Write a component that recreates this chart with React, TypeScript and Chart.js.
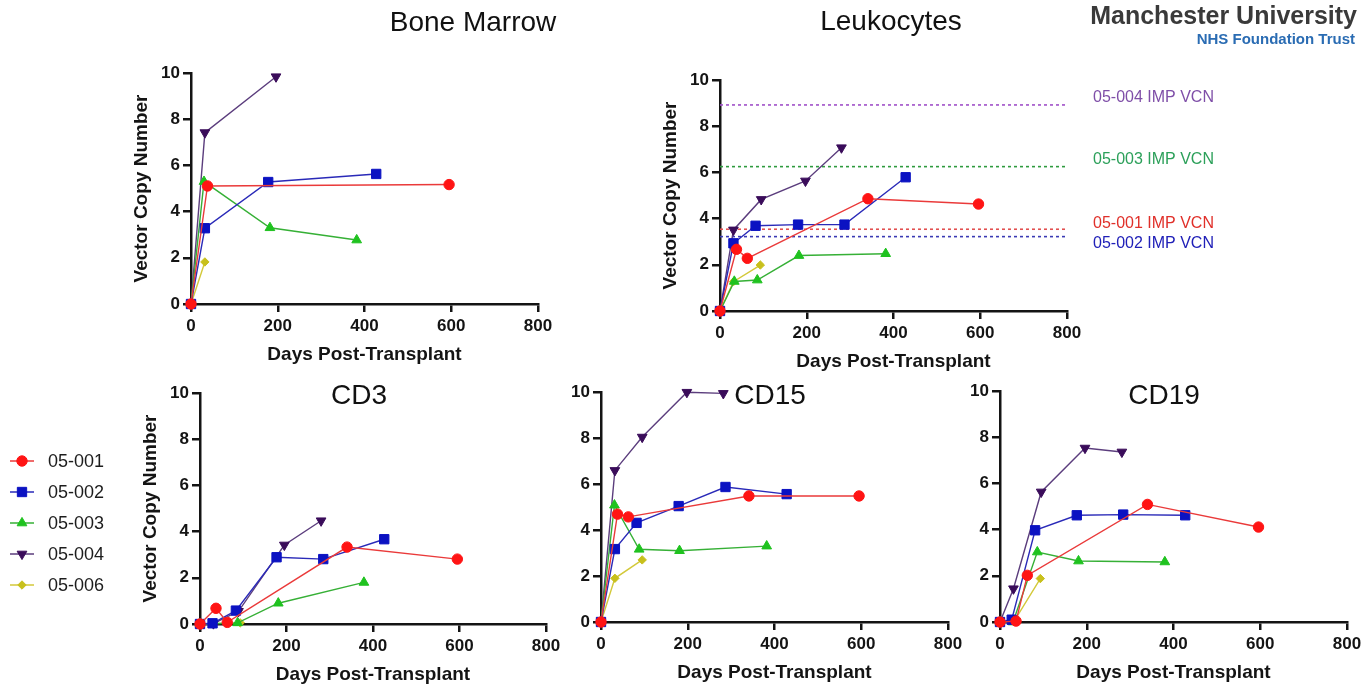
import React, { useEffect, useRef } from "react";
import { Chart, registerables } from "chart.js";
import { drawPoint } from "chart.js/helpers";

Chart.register(...registerables);

const PAGE_W = 1370;
const PAGE_H = 690;
const FONT = 'Arial, "Liberation Sans", Helvetica, sans-serif';
const INK = "#141414";

// ---------- data ----------
const PATIENTS = ["05-001", "05-002", "05-003", "05-004", "05-006"];
const X_TICKS = [0, 200, 400, 600, 800];
const Y_TICKS = [0, 2, 4, 6, 8, 10];

// Bone Marrow
const bmDays001 = [0, 38, 595];
const bmVcn001 = [0, 5.11, 5.17];
const bmDays002 = [0, 32, 178, 427];
const bmVcn002 = [0, 3.28, 5.28, 5.63];
const bmDays003 = [0, 30, 182, 382];
const bmVcn003 = [0, 5.3, 3.3, 2.77];
const bmDays004 = [0, 32, 196];
const bmVcn004 = [0, 7.42, 9.84];
const bmDays006 = [0, 32];
const bmVcn006 = [0, 1.82];

// Leukocytes
const leukDays001 = [0, 38, 63, 341, 596];
const leukVcn001 = [0, 2.67, 2.28, 4.86, 4.63];
const leukDays002 = [0, 31, 82, 180, 287, 428];
const leukVcn002 = [0, 2.93, 3.69, 3.74, 3.74, 5.79];
const leukDays003 = [0, 33, 86, 182, 382];
const leukVcn003 = [0, 1.28, 1.34, 2.4, 2.48];
const leukDays004 = [0, 31, 95, 197, 280];
const leukVcn004 = [0, 3.51, 4.83, 5.63, 7.07];
const leukDays006 = [0, 31, 93];
const leukVcn006 = [0, 1.27, 1.99];

// Leukocytes IMP VCN reference levels (05-001, 05-002, 05-003, 05-004)
const IMP_LABELS = ["05-001 IMP VCN", "05-002 IMP VCN", "05-003 IMP VCN", "05-004 IMP VCN"];
const IMP_VCN = [3.54, 3.22, 6.25, 8.92];

// CD3
const cd3Days001 = [0, 37, 63, 340, 595];
const cd3Vcn001 = [0, 0.68, 0.07, 3.33, 2.81];
const cd3Days002 = [0, 29, 83, 177, 285, 426];
const cd3Vcn002 = [0, 0.03, 0.58, 2.89, 2.81, 3.67];
const cd3Days003 = [0, 87, 181, 379];
const cd3Vcn003 = [0, 0.05, 0.9, 1.8];
const cd3Days004 = [0, 31, 89, 195, 280];
const cd3Vcn004 = [0, 0.02, 0.55, 3.42, 4.47];
const cd3Days006 = [0, 93];
const cd3Vcn006 = [0, 0.05];

// CD15
const cd15Days001 = [0, 38, 63, 341, 595];
const cd15Vcn001 = [0, 4.69, 4.57, 5.48, 5.48];
const cd15Days002 = [0, 32, 82, 179, 287, 428];
const cd15Vcn002 = [0, 3.17, 4.31, 5.04, 5.87, 5.56];
const cd15Days003 = [0, 31, 88, 181, 382];
const cd15Vcn003 = [0, 5.08, 3.16, 3.1, 3.3];
const cd15Days004 = [0, 32, 95, 198, 282];
const cd15Vcn004 = [0, 6.59, 8.04, 9.99, 9.94];
const cd15Days006 = [0, 32, 95];
const cd15Vcn006 = [0, 1.9, 2.7];

// CD19
const cd19Days001 = [0, 37, 63, 340, 596];
const cd19Vcn001 = [0, 0.04, 2.02, 5.09, 4.11];
const cd19Days002 = [0, 27, 81, 177, 284, 427];
const cd19Vcn002 = [0, 0.1, 3.97, 4.62, 4.65, 4.62];
const cd19Days003 = [0, 30, 86, 181, 380];
const cd19Vcn003 = [0, 0, 3.03, 2.64, 2.6];
const cd19Days004 = [0, 31, 95, 196, 281];
const cd19Vcn004 = [0, 1.44, 5.63, 7.53, 7.36];
const cd19Days006 = [0, 32, 93];
const cd19Vcn006 = [0, 0.02, 1.88];

// ---------- styles ----------
const STYLES = [
  { line: "#ea3a3a", fill: "#ff1414", shape: "circle", radius: 5.2, rotation: 0 },
  { line: "#2a2ab8", fill: "#0b12c2", shape: "rect", radius: 6.6, rotation: 0 },
  { line: "#36b036", fill: "#1fc21f", shape: "triangle", radius: 5.6, rotation: 0 },
  { line: "#5b3d7d", fill: "#3a0c5a", shape: "triangle", radius: 5.6, rotation: 180 },
  { line: "#d3c93a", fill: "#c8c01c", shape: "rectRot", radius: 4.2, rotation: 0 },
];
const IMP_LINE_COLORS = ["#e25050", "#3a3ab4", "#2e9a3e", "#a050c8"];
const IMP_TEXT_COLORS = ["#e0302a", "#2020b8", "#2ca05a", "#7f4fa8"];
const IMP_TEXT_OFFSET = [-6, 7, -7, -7.5];

const Y_AXIS_W = 61;
const X_AXIS_H = 65;

type Area = { left: number; top: number; right: number; bottom: number };

const refPlugin = {
  id: "impRefs",
  beforeDatasetsDraw(chart: any) {
    const { ctx, chartArea, scales } = chart;
    const y = scales.y;
    IMP_VCN.forEach((v, i) => {
      const py = y.getPixelForValue(v);
      ctx.save();
      ctx.strokeStyle = IMP_LINE_COLORS[i];
      ctx.lineWidth = 1.6;
      ctx.setLineDash([3, 3]);
      ctx.beginPath();
      ctx.moveTo(chartArea.left, py);
      ctx.lineTo(chartArea.right, py);
      ctx.stroke();
      ctx.setLineDash([]);
      ctx.fillStyle = IMP_TEXT_COLORS[i];
      ctx.font = `16px ${FONT}`;
      ctx.textBaseline = "middle";
      ctx.textAlign = "left";
      ctx.fillText(IMP_LABELS[i], chartArea.right + 26, py + IMP_TEXT_OFFSET[i]);
      ctx.restore();
    });
  },
};

const legendPlugin = {
  id: "sideLegend",
  afterDraw(chart: any) {
    const { ctx } = chart;
    const x0 = 10;
    const lineLen = 24;
    const textX = 48;
    const top = 461;
    const gap = 31;
    chart.data.datasets.forEach((ds: any, i: number) => {
      const y = top + i * gap;
      ctx.save();
      ctx.strokeStyle = ds.borderColor;
      ctx.lineWidth = 1.5;
      ctx.beginPath();
      ctx.moveTo(x0, y);
      ctx.lineTo(x0 + lineLen, y);
      ctx.stroke();
      ctx.fillStyle = ds.pointBackgroundColor;
      ctx.strokeStyle = ds.pointBorderColor;
      ctx.lineWidth = 1;
      drawPoint(ctx, { pointStyle: ds.pointStyle, rotation: ds.pointRotation, radius: ds.pointRadius, borderWidth: 1 }, x0 + lineLen / 2, y);
      ctx.fillStyle = "#1c1c1c";
      ctx.font = `18px ${FONT}`;
      ctx.textBaseline = "middle";
      ctx.textAlign = "left";
      ctx.fillText(ds.label, textX, y + 1);
      ctx.restore();
    });
  },
};

function buildConfig(series: [number[], number[]][], area: Area, yTitle: boolean, refs: boolean, legend: boolean): any {
  const datasets = series.map(([days, vcn], i) => {
    const st = STYLES[i];
    return {
      label: PATIENTS[i],
      data: days.map((d, k) => ({ x: d, y: vcn[k] })),
      borderColor: st.line,
      borderWidth: 1.4,
      backgroundColor: st.fill,
      pointBackgroundColor: st.fill,
      pointBorderColor: st.fill,
      pointBorderWidth: 1,
      pointStyle: st.shape,
      pointRadius: st.radius,
      pointRotation: st.rotation,
      tension: 0,
      clip: false,
      fill: false,
    };
  });
  const plugins: any[] = [];
  if (refs) plugins.push(refPlugin);
  if (legend) plugins.push(legendPlugin);
  const axisCommon = {
    grid: { drawOnChartArea: false, drawTicks: true, tickLength: 8, color: INK, lineWidth: 2.5 },
    border: { display: true, color: INK, width: 2.5 },
  };
  return {
    type: "line",
    data: { datasets },
    plugins,
    options: {
      responsive: false,
      animation: false,
      events: [],
      devicePixelRatio: 1,
      layout: {
        padding: {
          left: area.left - Y_AXIS_W,
          top: area.top,
          right: PAGE_W - area.right,
          bottom: PAGE_H - area.bottom - X_AXIS_H,
        },
      },
      plugins: {
        legend: { display: false },
        tooltip: { enabled: false },
        title: { display: false },
      },
      scales: {
        x: {
          type: "linear",
          min: 0,
          max: 800,
          ...axisCommon,
          afterBuildTicks: (s: any) => {
            s.ticks = X_TICKS.map((v) => ({ value: v }));
          },
          ticks: { color: INK, font: { family: FONT, size: 17, weight: "bold" }, padding: 4, maxRotation: 0, autoSkip: false },
          title: {
            display: true,
            text: "Days Post-Transplant",
            color: INK,
            font: { family: FONT, size: 19, weight: "bold" },
            padding: { top: 0, bottom: 3 },
          },
          afterFit: (s: any) => {
            s.height = X_AXIS_H;
          },
        },
        y: {
          type: "linear",
          min: 0,
          max: 10,
          ...axisCommon,
          afterBuildTicks: (s: any) => {
            s.ticks = Y_TICKS.map((v) => ({ value: v }));
          },
          ticks: { color: INK, font: { family: FONT, size: 17, weight: "bold" }, padding: 3, autoSkip: false },
          title: {
            display: yTitle,
            text: "Vector Copy Number",
            color: INK,
            font: { family: FONT, size: 19, weight: "bold" },
            padding: { top: 0, bottom: 0 },
          },
          afterFit: (s: any) => {
            s.width = Y_AXIS_W;
          },
        },
      },
    },
  };
}

function makeConfigs(): any[] {
  return [
    buildConfig(
      [
        [bmDays001, bmVcn001],
        [bmDays002, bmVcn002],
        [bmDays003, bmVcn003],
        [bmDays004, bmVcn004],
        [bmDays006, bmVcn006],
      ],
      { left: 191, top: 73, right: 538, bottom: 304 },
      true,
      false,
      false
    ),
    buildConfig(
      [
        [leukDays001, leukVcn001],
        [leukDays002, leukVcn002],
        [leukDays003, leukVcn003],
        [leukDays004, leukVcn004],
        [leukDays006, leukVcn006],
      ],
      { left: 720, top: 80, right: 1067, bottom: 311 },
      true,
      true,
      false
    ),
    buildConfig(
      [
        [cd3Days001, cd3Vcn001],
        [cd3Days002, cd3Vcn002],
        [cd3Days003, cd3Vcn003],
        [cd3Days004, cd3Vcn004],
        [cd3Days006, cd3Vcn006],
      ],
      { left: 200, top: 393, right: 546, bottom: 624 },
      true,
      false,
      true
    ),
    buildConfig(
      [
        [cd15Days001, cd15Vcn001],
        [cd15Days002, cd15Vcn002],
        [cd15Days003, cd15Vcn003],
        [cd15Days004, cd15Vcn004],
        [cd15Days006, cd15Vcn006],
      ],
      { left: 601, top: 392, right: 948, bottom: 622 },
      false,
      false,
      false
    ),
    buildConfig(
      [
        [cd19Days001, cd19Vcn001],
        [cd19Days002, cd19Vcn002],
        [cd19Days003, cd19Vcn003],
        [cd19Days004, cd19Vcn004],
        [cd19Days006, cd19Vcn006],
      ],
      { left: 1000, top: 391, right: 1347, bottom: 622 },
      false,
      false,
      false
    ),
  ];
}

type TextItem = { text: string; x: number; y: number; size: number; align: "center" | "right"; weight?: string; color?: string };

const TEXTS: TextItem[] = [
  { text: "Bone Marrow", x: 473, y: 31.5, size: 28, align: "center" },
  { text: "Leukocytes", x: 891, y: 30.5, size: 28, align: "center" },
  { text: "CD3", x: 359, y: 405, size: 28, align: "center" },
  { text: "CD15", x: 770, y: 405, size: 28, align: "center" },
  { text: "CD19", x: 1164, y: 405, size: 28, align: "center" },
  { text: "Manchester University", x: 1357, y: 24, size: 25, align: "right", weight: "bold", color: "#3a3a3a" },
  { text: "NHS Foundation Trust", x: 1355, y: 44, size: 15, align: "right", weight: "bold", color: "#2a6cb3" },
];

function ChartLayer({ index }: { index: number }) {
  const ref = useRef<HTMLCanvasElement | null>(null);
  useEffect(() => {
    if (!ref.current) return;
    const config = makeConfigs()[index];
    const chart = new Chart(ref.current, config);
    return () => chart.destroy();
  }, [index]);
  return (
    <canvas
      ref={ref}
      width={PAGE_W}
      height={PAGE_H}
      style={{ position: "absolute", left: 0, top: 0, width: PAGE_W, height: PAGE_H }}
    />
  );
}

export default function App() {
  return (
    <div
      style={{
        position: "absolute",
        left: 0,
        top: 0,
        width: PAGE_W,
        height: PAGE_H,
        background: "#ffffff",
        overflow: "hidden",
        fontFamily: FONT,
      }}
    >
      {[0, 1, 2, 3, 4].map((i) => (
        <ChartLayer key={i} index={i} />
      ))}
      {TEXTS.map((t, i) => {
        const style: any = {
          position: "absolute",
          top: t.y - 0.8465 * t.size,
          fontSize: t.size,
          lineHeight: `${t.size}px`,
          fontWeight: t.weight || "normal",
          color: t.color || "#111",
          whiteSpace: "nowrap",
          fontFamily: FONT,
        };
        if (t.align === "center") {
          style.left = t.x;
          style.transform = "translateX(-50%)";
        } else {
          style.right = PAGE_W - t.x;
        }
        return (
          <div key={i} style={style}>
            {t.text}
          </div>
        );
      })}
    </div>
  );
}
